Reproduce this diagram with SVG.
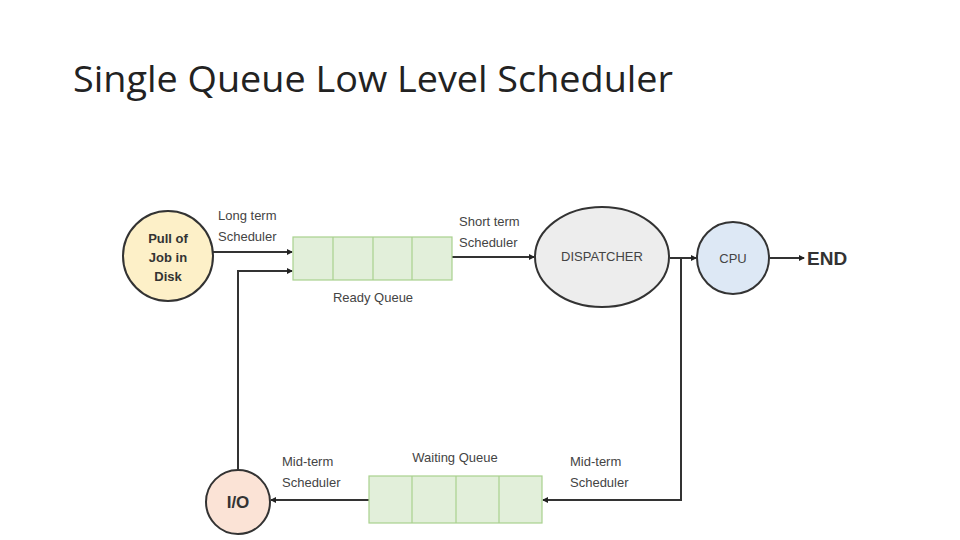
<svg xmlns="http://www.w3.org/2000/svg" width="960" height="540" viewBox="0 0 960 540">
<defs>
<marker id="ah" markerWidth="6" markerHeight="6" refX="5" refY="3" orient="auto" markerUnits="userSpaceOnUse"><path d="M0,0 L6,3 L0,6 z" fill="#222"/></marker>
<style>
.lbl{font-family:"Liberation Sans",Arial,sans-serif;font-size:13px;fill:#444}
.bold{font-family:"Liberation Sans",Arial,sans-serif;font-weight:bold;fill:#333}
.q{fill:#e2efda;stroke:#a9d18e;stroke-width:1.2}
.c{stroke:#333;stroke-width:2}
.ln{stroke:#333;stroke-width:2;fill:none}
</style>
</defs>
<rect width="960" height="540" fill="#fff"/>
<text x="73" y="92" font-family="'Open Sans','Liberation Sans',sans-serif" font-size="36" fill="#222" textLength="600" lengthAdjust="spacingAndGlyphs">Single Queue Low Level Scheduler</text>
<g id="connectors">
<line class="ln" x1="213" y1="252" x2="292" y2="252" marker-end="url(#ah)"/>
<polyline class="ln" points="238,470 238,271 292,271" marker-end="url(#ah)"/>
<line class="ln" x1="452" y1="257" x2="534" y2="257" marker-end="url(#ah)"/>
<line class="ln" x1="670" y1="258" x2="696" y2="258" marker-end="url(#ah)"/>
<line class="ln" x1="770" y1="258" x2="804" y2="258" marker-end="url(#ah)"/>
<polyline class="ln" points="681,258 681,500 543,500" marker-end="url(#ah)"/>
<line class="ln" x1="369" y1="500" x2="271" y2="500" marker-end="url(#ah)"/>
</g>
<g id="pool">
<circle class="c" cx="168" cy="256" r="45" fill="#fdf0c8"/>
<text class="bold" font-size="13" text-anchor="middle" x="168" y="243">Pull of</text>
<text class="bold" font-size="13" text-anchor="middle" x="168" y="262">Job in</text>
<text class="bold" font-size="13" text-anchor="middle" x="168" y="281">Disk</text>
</g>
<g id="ready-queue">
<rect class="q" x="293" y="237" width="159" height="43"/>
<line class="q" x1="333" y1="237" x2="333" y2="280"/>
<line class="q" x1="373" y1="237" x2="373" y2="280"/>
<line class="q" x1="412" y1="237" x2="412" y2="280"/>
<text class="lbl" font-size="14" text-anchor="middle" x="373" y="302">Ready Queue</text>
</g>
<g id="dispatcher">
<ellipse class="c" cx="602" cy="257" rx="67" ry="50" fill="#ededed"/>
<text class="lbl" font-size="10" text-anchor="middle" x="602" y="261">DISPATCHER</text>
</g>
<g id="cpu">
<circle class="c" cx="733" cy="258" r="36" fill="#dde8f5"/>
<text class="lbl" font-size="14" text-anchor="middle" x="733" y="263">CPU</text>
</g>
<g id="end"><text class="bold" font-size="19" x="807" y="265" fill="#111">END</text></g>
<g id="io">
<circle class="c" cx="238" cy="502" r="32" fill="#fbe3d6"/>
<text class="bold" font-size="17" text-anchor="middle" x="238" y="508">I/O</text>
</g>
<g id="waiting-queue">
<rect class="q" x="369" y="476" width="173" height="47"/>
<line class="q" x1="412" y1="476" x2="412" y2="523"/>
<line class="q" x1="456" y1="476" x2="456" y2="523"/>
<line class="q" x1="499" y1="476" x2="499" y2="523"/>
<text class="lbl" font-size="14" text-anchor="middle" x="455" y="462">Waiting Queue</text>
</g>
<g id="labels">
<text class="lbl" x="218" y="220">Long term</text>
<text class="lbl" x="218" y="241">Scheduler</text>
<text class="lbl" x="459" y="226">Short term</text>
<text class="lbl" x="459" y="247">Scheduler</text>
<text class="lbl" x="282" y="466">Mid-term</text>
<text class="lbl" x="282" y="487">Scheduler</text>
<text class="lbl" x="570" y="466">Mid-term</text>
<text class="lbl" x="570" y="487">Scheduler</text>
</g>
</svg>
